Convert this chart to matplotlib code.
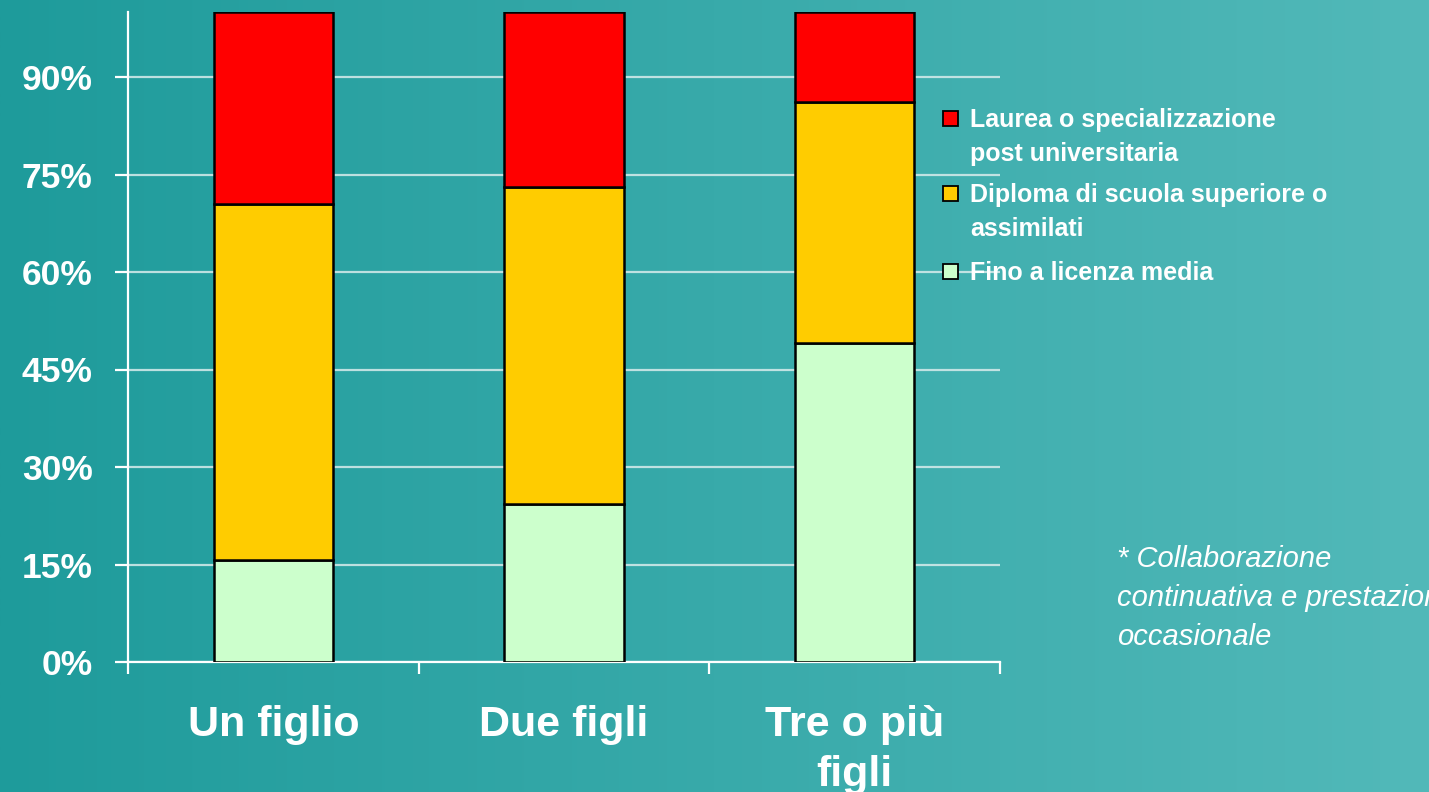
import matplotlib
matplotlib.use("Agg")
import matplotlib.pyplot as plt
import numpy as np
from matplotlib.patches import Rectangle

plt.rcParams['font.family'] = ['Liberation Sans', 'DejaVu Sans']

# ---- data ----
categories = ["Un figlio", "Due figli", "Tre o più\nfigli"]
fino = [15.7, 24.3, 49.1]
diploma = [54.8, 48.8, 37.1]
laurea = [29.5, 26.9, 13.8]
series_names = ["Fino a licenza media",
                "Diploma di scuola superiore o\nassimilati",
                "Laurea o specializzazione\npost universitaria"]
series_colors = ["#ccffcc", "#ffcc00", "#ff0000"]
yticks = [0, 15, 30, 45, 60, 75, 90]
ytick_labels = [f"{t}%" for t in yticks]
footnote = "* Collaborazione\ncontinuativa e prestazione\noccasionale"

W, H = 1429, 792
fig = plt.figure(figsize=(W / 100, H / 100), dpi=100)

# background gradient
bg = fig.add_axes([0, 0, 1, 1], zorder=-10)
left = np.array([30, 155, 155]) / 255
right = np.array([82, 185, 185]) / 255
t = np.linspace(0, 1, 512)
grad = left[None, :] * (1 - t[:, None]) + right[None, :] * t[:, None]
bg.imshow(grad[None, :, :], aspect='auto', extent=[0, 1, 0, 1])
bg.axis('off')

ax = fig.add_axes([128 / W, 1 - 662 / H, 872 / W, 650 / H])
ax.patch.set_alpha(0)

x = np.arange(len(categories))
series = [fino, diploma, laurea]
bottom = np.zeros(len(categories))
for vals, col in zip(series, series_colors):
    ax.bar(x, vals, bottom=bottom, width=0.41, color=col, edgecolor='black',
           linewidth=1.8, zorder=3)
    bottom += np.array(vals)

ax.set_xlim(-0.5, 2.5)
ax.set_ylim(0, 100)

for s in ['top', 'right']:
    ax.spines[s].set_visible(False)
for s in ['left', 'bottom']:
    ax.spines[s].set_color('white')
    ax.spines[s].set_linewidth(1.6)

ax.set_yticks(yticks)
ax.set_yticklabels(ytick_labels)
ax.tick_params(axis='y', direction='out', length=9.5, width=1.6, color='white',
               pad=16, labelsize=25.5, labelcolor='white')
for lab in ax.get_yticklabels():
    lab.set_fontweight('bold')

ax.set_xticks(x)
ax.set_xticklabels(categories)
ax.set_xticks([-0.5, 0.5, 1.5, 2.5], minor=True)
ax.tick_params(axis='x', which='major', length=0, pad=31, labelsize=31,
               labelcolor='white')
ax.tick_params(axis='x', which='minor', direction='out', length=8.6, width=1.6,
               color='white')
for lab in ax.get_xticklabels():
    lab.set_fontweight('bold')
    lab.set_linespacing(1.33)

ax.set_axisbelow(True)
ax.yaxis.grid(True, color='#d8ecec', linewidth=1.6, alpha=0.85)

# legend (manual, top entry first)
leg_y = [118, 193, 271]
for yy, name, col in zip(leg_y, series_names[::-1], series_colors[::-1]):
    fig.patches.append(Rectangle((943 / W, 1 - (yy + 8) / H), 15 / W, 15 / H,
                                 facecolor=col, edgecolor='black', linewidth=1.3,
                                 transform=fig.transFigure, figure=fig))
    fig.text(970 / W, 1 - (yy - 10) / H, name, color='white', fontsize=18,
             fontweight='bold', va='top', ha='left', linespacing=1.5)

fig.text(1117 / W, 1 - 545 / H, footnote, color='white', fontsize=21,
         style='italic', va='top', ha='left', linespacing=1.5)

fig.savefig("out.png", dpi=100)
